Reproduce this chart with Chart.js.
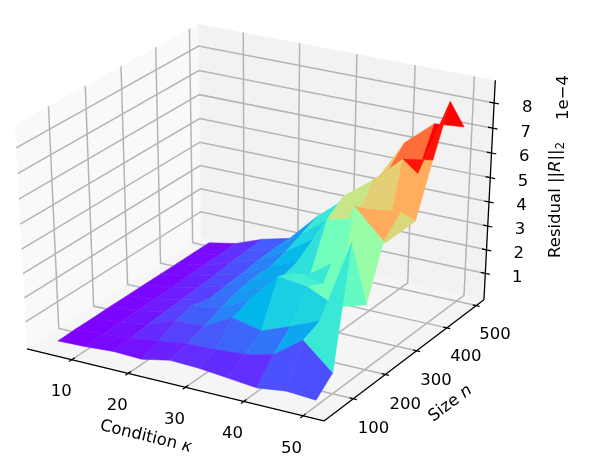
<!DOCTYPE html>
<html><head><meta charset="utf-8">
<style>html,body{margin:0;padding:0;background:#fff}canvas{display:block}</style>
<script src="https://cdn.jsdelivr.net/npm/chart.js@4/dist/chart.umd.js"></script>
</head><body>
<canvas id="c" width="598" height="468" style="width:598px;height:468px"></canvas>
<script>
const kValues=[5,10,15,20,25,30,35,40,45,50];
const nValues=[50,100,150,200,250,300,350,400,450,500];
const z050=[0,.04,.12,.08,.32,.28,.16,.04,.2,.12];
const z100=[.02,.08,.2,.36,.52,.57,.65,.93,1.8,.74];
const z150=[.02,.1,.3,.73,.77,1.4,1.13,1.6,2.1,5.5];
const z200=[.03,.12,.35,.9,1.05,1.65,2.9,2.75,2.2,2.56];
const z250=[.03,.15,.4,.7,1.3,1.7,2.6,2.4,5.8,4.67];
const z300=[.03,.15,.45,.8,1.4,1.7,2.1,2.95,5.25,5.4];
const z350=[.03,.18,.5,.85,1.4,1.9,3.9,4.15,3.45,4.6];
const z400=[.03,.22,.6,.95,1.6,2.4,4.4,5.3,6.4,6.6];
const z450=[.03,.22,.65,1,1.9,2.8,4.2,5.3,5.4,8.5];
const z500=[.03,.26,.7,1,2.2,3.2,4.1,6,7,7.1];
const zRows=[z050,z100,z150,z200,z250,z300,z350,z400,z450,z500];
const kTicks=[10,20,30,40,50];
const nTicks=[100,200,300,400,500];
const zTicks=[1,2,3,4,5,6,7,8];
const kLim=[1.9,53.5], nLim=[11.3,526.8], zLim=[-.128,8.897];
const colorTop=6.9;

const DIST=10;
function project(k,n,z){
  const dx=(k-kLim[0])/(kLim[1]-kLim[0])-.5, dy=(n-nLim[0])/(nLim[1]-nLim[0])-.5, dz=(z-zLim[0])/(zLim[1]-zLim[0])-.5;
  const c30=Math.cos(Math.PI/6);
  const u=c30*dx+.5*dy, v=-.25*dx+.5*c30*dy+c30*dz, d=.5*c30*dx-.75*dy+.5*dz;
  const w=DIST-d;
  return {x:342.8*u*DIST/w+259, y:-256*v*DIST/w+215.7, w};
}
function rainbow(x){
  const c=a=>Math.round(255*Math.min(1,Math.max(0,a)));
  x=Math.min(1,x);
  return `rgb(${c(Math.abs(2*x-.5))},${c(Math.sin(Math.PI*x))},${c(Math.cos(Math.PI*x/2))})`;
}
const layers=[];
function shape(pts,color,edge){
  const p=pts.map(a=>project(...a)); p.push(p[0]);
  layers.push({data:p.map(q=>({x:q.x,y:q.y})),showLine:true,fill:'shape',backgroundColor:color,borderColor:color,borderWidth:edge||0,pointRadius:0,tension:0});
}
function line(pts,color,width){
  layers.push({data:pts.map(a=>{const q=project(...a);return {x:q.x,y:q.y};}),showLine:true,fill:false,borderColor:color,borderWidth:width,pointRadius:0,tension:0});
}
const [k0,k1]=kLim,[n0,n1]=nLim,[z0,z1]=zLim;
shape([[k0,n0,z0],[k0,n1,z0],[k0,n1,z1],[k0,n0,z1]],'#f9f9f9');
shape([[k0,n1,z0],[k1,n1,z0],[k1,n1,z1],[k0,n1,z1]],'#f2f2f2');
shape([[k0,n0,z0],[k1,n0,z0],[k1,n1,z0],[k0,n1,z0]],'#f5f5f5');
const GRID='#b4b4b4';
kTicks.forEach(k=>line([[k,n0,z0],[k,n1,z0],[k,n1,z1]],GRID,1.5));
nTicks.forEach(n=>line([[k1,n,z0],[k0,n,z0],[k0,n,z1]],GRID,1.5));
zTicks.forEach(z=>line([[k0,n0,z],[k0,n1,z],[k1,n1,z]],GRID,1.5));
line([[k0,n0,z0],[k1,n0,z0]],'#000',1.3);
line([[k1,n0,z0],[k1,n1,z0]],'#000',1.3);
line([[k1,n1,z0],[k1,n1,z1]],'#000',1.3);
kTicks.forEach(k=>line([[k,n0+8,z0],[k,n0-8,z0]],'#000',1.2));
nTicks.forEach(n=>line([[k1-.6,n,z0],[k1+.6,n,z0]],'#000',1.2));
zTicks.forEach(z=>line([[k1-.8,n1,z],[k1+.8,n1,z]],'#000',1.2));
const facets=[];
for(let j=0;j<nValues.length-1;j++)for(let i=0;i<kValues.length-1;i++){
  const corners=[[i,j],[i+1,j],[i+1,j+1],[i,j+1]].map(([a,b])=>[kValues[a],nValues[b],zRows[b][a]]);
  const mean=corners.reduce((s,c)=>s+c[2],0)/4;
  const depth=corners.reduce((s,c)=>s+project(...c).w,0)/4;
  facets.push({corners,mean,depth});
}
const lo=Math.min(...facets.map(f=>f.mean));
facets.sort((a,b)=>b.depth-a.depth).forEach(f=>shape(f.corners,rainbow((f.mean-lo)/(colorTop-lo)),.5));

const FONT='"DejaVu Sans"';
const SZ=16.5;
const textPlugin={id:'text3d',afterDraw(chart){
  const ctx=chart.ctx,sx=chart.scales.x,sy=chart.scales.y;
  const put=(t,p)=>{ctx.font=`${SZ}px ${FONT}`;ctx.fillText(t,sx.getPixelForValue(p.x),sy.getPixelForValue(p.y));};
  ctx.save();ctx.fillStyle='#000';ctx.textAlign='center';ctx.textBaseline='middle';
  kTicks.forEach(k=>put(String(k),project(k,n0-33,z0-1.02)));
  nTicks.forEach(n=>put(String(n),project(k1+3.5,n,z0-1.06)));
  zTicks.forEach(z=>put(String(z),project(k1+4.2,n1+28,z-.2)));
  const runs=(items,x,y,ang)=>{
    ctx.save();ctx.translate(sx.getPixelForValue(x),sy.getPixelForValue(y));ctx.rotate(ang*Math.PI/180);
    ctx.textAlign='left';ctx.textBaseline='alphabetic';
    const fontOf=r=>`${r.i?'italic ':''}${r.s||SZ}px ${FONT}`;
    let tot=0;items.forEach(r=>{ctx.font=fontOf(r);tot+=ctx.measureText(r.t).width;});
    let cx=-tot/2;items.forEach(r=>{ctx.font=fontOf(r);ctx.fillText(r.t,cx,5+(r.dy||0));cx+=ctx.measureText(r.t).width;});
    ctx.restore();
  };
  runs([{t:'Condition '},{t:'κ',i:true}],146,436,13.7);
  runs([{t:'Size '},{t:'n',i:true}],450,403,-37);
  runs([{t:'Residual ||'},{t:'R',i:true},{t:'||'},{t:'2',s:11.5,dy:3.5}],555,200,-90);
  runs([{t:'1e−4'}],563,97.5,-90);
  ctx.restore();
}};
new Chart(document.getElementById('c'),{
  type:'scatter',
  data:{datasets:layers.slice().reverse()},
  plugins:[textPlugin],
  options:{responsive:false,animation:false,events:[],
    layout:{padding:0},
    plugins:{legend:{display:false},tooltip:{enabled:false},title:{display:false}},
    scales:{x:{type:'linear',min:0,max:598,display:false},y:{type:'linear',min:0,max:468,reverse:true,display:false}}
  }
});
</script>
</body></html>
